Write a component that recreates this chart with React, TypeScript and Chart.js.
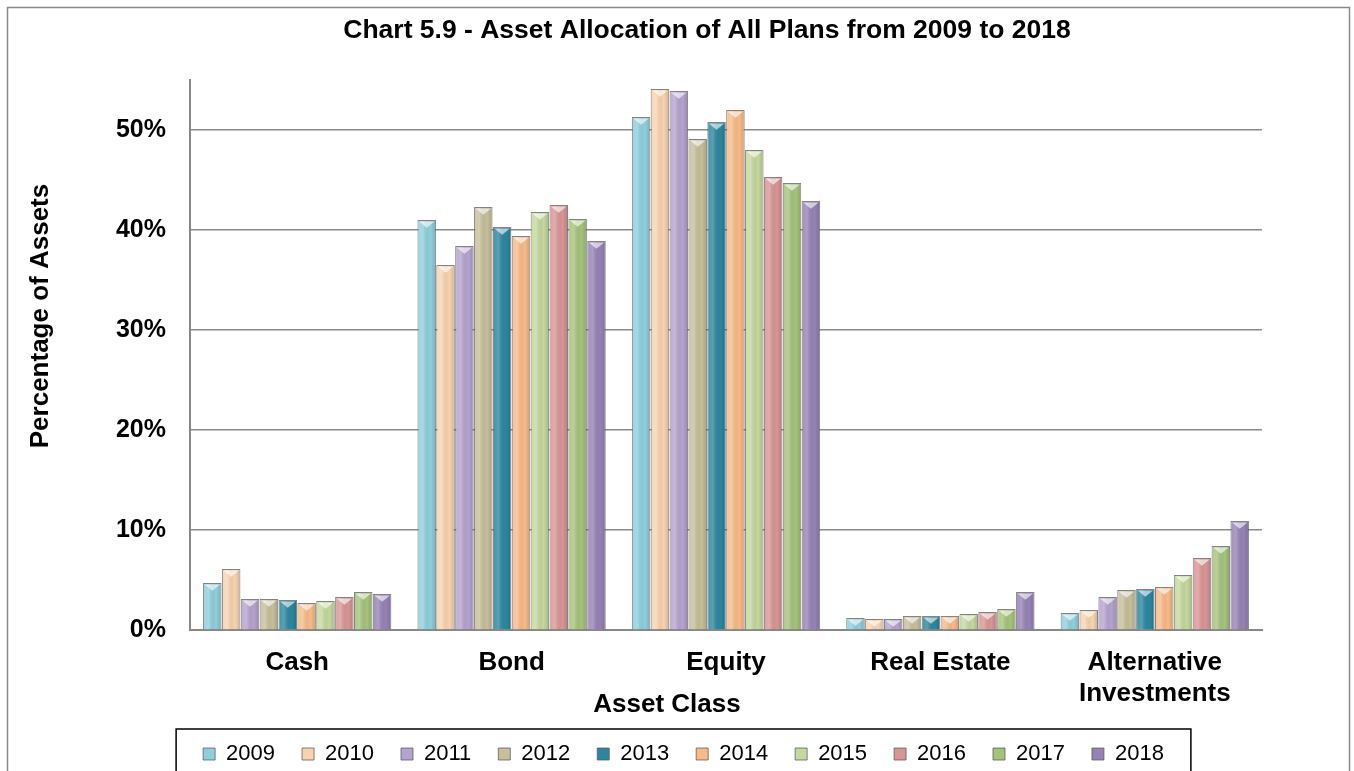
import React, { useEffect, useRef } from "react";
import { Chart, registerables } from "chart.js";

Chart.register(...registerables);

const FONT = "'Liberation Sans', Arial, sans-serif";

const chartTitle = "Chart 5.9 - Asset Allocation of All Plans from 2009 to 2018";
const yAxisTitle = "Percentage of Assets";
const xAxisTitle = "Asset Class";

const categories: (string | string[])[] = ["Cash", "Bond", "Equity", "Real Estate", ["Alternative", "Investments"]];
const years = ["2009", "2010", "2011", "2012", "2013", "2014", "2015", "2016", "2017", "2018"];

const y2009 = [4.7, 41.0, 51.3, 1.2, 1.7];
const y2010 = [6.1, 36.5, 54.1, 1.1, 2.0];
const y2011 = [3.1, 38.4, 53.9, 1.1, 3.3];
const y2012 = [3.1, 42.3, 49.1, 1.4, 4.0];
const y2013 = [3.0, 40.3, 50.8, 1.4, 4.1];
const y2014 = [2.7, 39.4, 52.0, 1.4, 4.3];
const y2015 = [2.9, 41.8, 48.0, 1.6, 5.5];
const y2016 = [3.3, 42.5, 45.3, 1.8, 7.2];
const y2017 = [3.8, 41.1, 44.7, 2.1, 8.4];
const y2018 = [3.6, 38.9, 42.9, 3.8, 10.9];

const seriesValues = [y2009, y2010, y2011, y2012, y2013, y2014, y2015, y2016, y2017, y2018];
const seriesColors = [
  "#8FCFDD", "#F8D3AF", "#B5A3CF", "#C6BF9A", "#2C869F",
  "#F9BA87", "#C5D89D", "#D99595", "#A6C37B", "#9682B6",
];

const yTickMax = 55;
const yTickStep = 10;

// Free-floating titles, placed relative to the plot area (as in the original layout)
const titlePlugin = {
  id: "freeTitles",
  afterDraw(chart: any) {
    const ca = chart.chartArea;
    const ctx = chart.ctx;
    const cx = (ca.left + ca.right) / 2;
    const cy = (ca.top + ca.bottom) / 2;
    ctx.save();
    ctx.fillStyle = "#000";
    ctx.textBaseline = "middle";
    ctx.textAlign = "center";
    ctx.font = `bold 26.5px ${FONT}`;
    ctx.fillText(chartTitle, cx - 19, ca.top - 49);
    ctx.font = `bold 26px ${FONT}`;
    ctx.fillText(xAxisTitle, cx - 59, ca.bottom + 75);
    ctx.translate(ca.left - 149, cy - 39);
    ctx.rotate(-Math.PI / 2);
    ctx.fillText(yAxisTitle, 0, 0);
    ctx.restore();
  },
};

const bevelPlugin = {
  id: "bevel",
  afterDatasetsDraw(chart: any) {
    const ctx = chart.ctx;
    ctx.save();
    chart.data.datasets.forEach((_: any, di: number) => {
      const meta = chart.getDatasetMeta(di);
      meta.data.forEach((el: any) => {
        const p = el.getProps(["x", "y", "base", "width"], true);
        const left = p.x - p.width / 2;
        const right = p.x + p.width / 2;
        const top = Math.min(p.y, p.base);
        const bottom = Math.max(p.y, p.base);
        const h = bottom - top;
        if (h <= 0) return;
        const g = ctx.createLinearGradient(left, 0, right, 0);
        g.addColorStop(0, "rgba(255,255,255,0.10)");
        g.addColorStop(0.3, "rgba(255,255,255,0.22)");
        g.addColorStop(0.7, "rgba(0,0,0,0.0)");
        g.addColorStop(1, "rgba(0,0,0,0.16)");
        ctx.fillStyle = g;
        ctx.fillRect(left + 1, top + 1, right - left - 2, h - 1);
        const bh = Math.min(p.width * 0.42, h - 1);
        ctx.beginPath();
        ctx.moveTo(left + 1.5, top + 1.5);
        ctx.lineTo(right - 1.5, top + 1.5);
        ctx.lineTo(p.x, top + bh);
        ctx.closePath();
        ctx.fillStyle = "rgba(255,255,255,0.6)";
        ctx.fill();
      });
    });
    ctx.restore();
  },
};

const framePlugin = {
  id: "frame",
  beforeDraw(chart: any) {
    const ctx = chart.ctx;
    ctx.save();
    ctx.fillStyle = "#ffffff";
    ctx.fillRect(0, 0, chart.width, chart.height);
    ctx.strokeStyle = "#8a8a8a";
    ctx.lineWidth = 1.5;
    ctx.strokeRect(7.5, 7.5, chart.width - 12, chart.height + 20);
    ctx.restore();
  },
  afterDraw(chart: any) {
    const lg = chart.legend;
    if (!lg || !lg.legendHitBoxes || !lg.legendHitBoxes.length) return;
    const boxes = lg.legendHitBoxes;
    const first = boxes[0];
    const last = boxes[boxes.length - 1];
    const ctx = chart.ctx;
    ctx.save();
    ctx.strokeStyle = "#000000";
    ctx.lineWidth = 1.5;
    const l = first.left - 27;
    const r = last.left + last.width + 27;
    const t = lg.top + 13;
    ctx.strokeRect(l, t, r - l, chart.height + 20 - t);
    ctx.restore();
  },
};

export default function App() {
  const ref = useRef<HTMLCanvasElement | null>(null);

  useEffect(() => {
    if (!ref.current) return;
    const datasets = years.map((yr, i) => ({
      label: yr,
      data: seriesValues[i],
      backgroundColor: seriesColors[i],
      borderColor: "rgba(90,90,90,0.75)",
      borderWidth: 1,
      categoryPercentage: 0.88,
      barPercentage: 0.98,
    }));
    const chart = new Chart(ref.current, {
      type: "bar",
      data: { labels: categories as any, datasets },
      plugins: [framePlugin, bevelPlugin, titlePlugin],
      options: {
        responsive: false,
        animation: false,
        layout: { padding: { left: 13, right: 0, top: 80, bottom: -4 } },
        plugins: {
          title: { display: false },
          legend: {
            position: "bottom",
            labels: {
              color: "#000",
              font: { family: FONT, size: 22 },
              boxWidth: 12,
              boxHeight: 12,
              padding: 27,
            },
          },
          tooltip: { enabled: false },
        },
        scales: {
          x: {
            grid: { display: false, drawTicks: false },
            border: { display: true, color: "#888888", width: 2 },
            ticks: {
              color: "#000",
              font: { family: FONT, size: 26, weight: "bold" },
              padding: 17,
              maxRotation: 0,
              autoSkip: false,
            },
            afterFit: (s: any) => {
              s.height = 86;
            },
          },
          y: {
            min: 0,
            max: yTickMax,
            grid: {
              color: "#8a8a8a",
              lineWidth: 1.5,
              drawTicks: false,
            },
            border: { display: true, color: "#888888", width: 2 },
            ticks: {
              stepSize: yTickStep,
              includeBounds: false,
              color: "#000",
              font: { family: FONT, size: 25, weight: "bold" },
              padding: 24,
              callback: (v: any) => `${v}%`,
            },
            afterFit: (s: any) => {
              s.width = 177;
            },
          },
          yRight: {
            position: "right",
            display: true,
            grid: { display: false, drawTicks: false },
            border: { display: false },
            ticks: { display: false },
            afterFit: (s: any) => {
              s.width = 92;
            },
          },
        },
      } as any,
    });
    return () => chart.destroy();
  }, []);

  return (
    <div style={{ position: "fixed", left: 0, top: 0, width: 1354, height: 771, background: "#fff" }}>
      <canvas ref={ref} width={1354} height={771} style={{ display: "block" }} />
    </div>
  );
}
